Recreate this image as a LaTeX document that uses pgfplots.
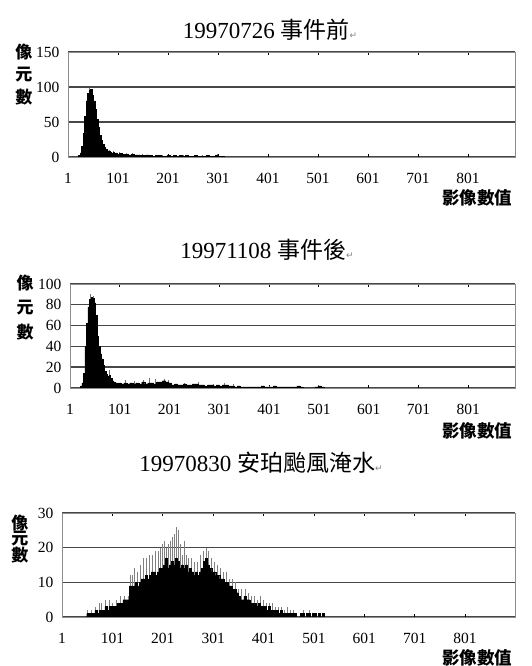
\documentclass[border=0pt]{standalone}
\usepackage{fontspec}
\setmainfont{Liberation Serif}
\newfontfamily\cjk{Noto Sans CJK TC}
\newfontfamily\sym{DejaVu Sans}
\usepackage{pgfplots}
\pgfplotsset{compat=1.18}
\pgfplotsset{hist/.style={
  scale only axis, anchor=south west,
  axis line style={draw=black!45, line width=0.6pt},
  ymajorgrids, grid style={draw=black!72, line width=1.4pt},
  xtick={1,101,...,801}, tick align=inside, major tick length=3pt,
  ytick style={draw=none}, xtick style={draw=black, line width=0.8pt},
  tick label style={font=\fontsize{15.5}{15.5}\selectfont},
  /pgf/number format/assume math mode=true,
  xticklabel style={yshift=-13pt},
  yticklabel style={xshift=-5pt},
  ymin=0, xmin=1,
}}
\newcommand{\ttl}[1]{{\fontsize{23}{23}\selectfont #1}}
\newcommand{\ylab}{\fontsize{17}{17}\selectfont\cjk\bfseries}
\begin{document}
\begin{tikzpicture}
\useasboundingbox (0,0) rectangle (531pt,666pt);
% ---------- Panel 1 ----------
\begin{axis}[hist, at={(68pt,509pt)}, width=447pt, height=105pt,
  xmax=895, ymax=150, ytick={0,50,100,150}]
\addplot[ycomb, draw=black!55, line width=0.8pt] coordinates {
(44,99)(50,92)(84,10)(92,9)(104,7)(118,6)(130,5)(150,4)(190,3)(232,3)(270,3)(300,4)};
\addplot[const plot, fill=black, draw=black, line width=0.3pt] coordinates {
(19,0)(22,2)(25,6)(28,15)(31,34)(34,58)(37,80)(40,91)(43,95)(46,97)(49,88)(52,80)(55,68)(58,54)(61,42)(64,31)(67,24)(70,18)(73,14)(76,11)(79,9)(82,8)(85,7)(88,6)(91,7)(94,5)(97,6)(100,4)
(103,5)(109,4)(115,4)(121,3)(127,4)(133,3)(139,3)(145,2)(151,2)(157,3)(163,2)(169,1)(175,2)(181,2)(187,1)(193,1)(199,2)(205,1)(211,2)(217,1)(223,2)(229,1)(235,2)(241,1)(247,1)(253,2)(259,1)(265,1)(271,1)(277,2)(283,1)(289,1)(295,2)(301,1)(307,1)(313,0)} \closedcycle;
\end{axis}
\node at (270pt,636pt) {\ttl{19970726 {\cjk 事件前}{\sym\color{black!50}\fontsize{9}{9}\selectfont ↵}}};
\node[font=\ylab] at (24pt,614pt) {像};
\node[font=\ylab] at (24pt,591pt) {元};
\node[font=\ylab] at (24pt,569pt) {數};
\node[anchor=east, font=\fontsize{17.5}{17.5}\selectfont\cjk\bfseries] at (516pt,468pt) {影像數值};
% ---------- Panel 2 ----------
\begin{axis}[hist, at={(70pt,278pt)}, width=445pt, height=104pt,
  xmax=895, ymax=100, ytick={0,20,...,100}]
\addplot[ycomb, draw=black!55, line width=0.8pt] coordinates {
(42,90)(48,88)(80,17)(112,8)(130,7)(148,8)(160,10)(172,9)(190,9)(198,8)(230,5)(258,6)(290,4)(312,5)(330,4)(401,2)(500,3)};
\addplot[const plot, fill=black, draw=black, line width=0.3pt] coordinates {
(19,0)(22,2)(25,5)(28,14)(31,40)(34,62)(37,78)(40,85)(43,87)(46,86)(49,82)(52,70)(55,50)(58,40)(61,33)(64,28)(67,22)(70,16)(73,13)(76,11)(79,12)(82,9)(85,7)(88,6)(91,5)(94,5)(97,4)(100,5)
(103,4)(109,5)(115,4)(121,5)(127,4)(133,5)(139,4)(145,6)(151,4)(157,5)(163,5)(169,4)(175,6)(181,6)(187,7)(193,6)(199,5)(205,3)(211,4)(217,3)(223,3)(229,4)(235,3)(241,3)(247,4)(253,4)(259,3)(265,3)(271,2)(277,3)(283,3)(289,2)(295,3)(301,2)(307,3)(313,3)(319,2)(325,2)(331,1)(337,2)(343,1)(349,1)(355,1)(361,1)(367,1)(373,1)(379,1)(385,2)(391,1)(397,1)(403,1)(409,2)(415,1)(421,1)(427,1)(433,1)(439,1)(445,1)(451,1)(457,2)(463,1)(469,0)(493,1)(499,2)(505,1)(511,0)} \closedcycle;
\end{axis}
\node at (267pt,416pt) {\ttl{19971108 {\cjk 事件後}{\sym\color{black!50}\fontsize{9}{9}\selectfont ↵}}};
\node[font=\ylab] at (25pt,383pt) {像};
\node[font=\ylab] at (25pt,358pt) {元};
\node[font=\ylab] at (25pt,334pt) {數};
\node[anchor=east, font=\fontsize{17.5}{17.5}\selectfont\cjk\bfseries] at (516pt,235pt) {影像數值};
% ---------- Panel 3 ----------
\begin{axis}[hist, at={(62pt,49pt)}, width=453pt, height=104pt,
  xmax=900, ymax=30, ytick={0,10,20,30}]
\addplot[ycomb, draw=black!50, line width=0.8pt] coordinates {
(52,2)(60,2)(68,3)(76,4)(80,4)(88,5)(96,5)(102,4)(108,5)(116,6)(124,6)(132,6)(136,12)(140,12)(144,14)(150,13)(156,15)(162,17)(168,17)(174,18)(180,18)(186,19)(192,19)(196,20)(200,21)(204,22)(208,20)(212,21)(216,22)(220,23)(224,24)(228,26)(232,25)(236,21)(240,18)(244,22)(248,18)(252,17)(258,17)(264,16)(270,16)(276,18)(282,19)(288,20)(292,19)(298,17)(304,16)(310,15)(316,14)(322,13)(328,13)(334,11)(340,11)(346,10)(352,8)(358,8)(364,8)(370,7)(376,6)(382,6)(388,5)(394,6)(400,5)(406,4)(412,4)(418,4)(424,3)(430,3)(436,3)(442,2)(448,3)(454,2)(460,2)(480,2)(492,2)(504,1)};
\addplot[const plot, fill=black, draw=black, line width=0.3pt] coordinates {
(46,0)(50,1)(54,1)(58,1)(62,1)(66,2)(70,1)(74,2)(78,2)(82,2)(86,3)(90,2)(94,3)(98,3)(102,3)(106,3)(110,4)(114,4)(118,4)(122,5)(126,5)(130,5)(134,9)(138,9)(142,9)(146,10)(150,9)(154,10)(158,11)(162,11)(166,12)(170,11)(174,12)(178,13)(182,13)(186,12)(190,13)(194,14)(198,14)(202,15)(206,17)(210,14)(214,15)(218,16)(222,15)(226,17)(230,16)(234,14)(238,15)(242,14)(246,15)(250,13)(254,14)(258,13)(262,12)(266,13)(270,12)(274,13)(278,14)(282,16)(286,17)(290,15)(294,14)(298,13)(302,13)(306,12)(310,12)(314,11)(318,11)(322,10)(326,10)(330,9)(334,9)(338,8)(342,8)(346,7)(350,6)(354,5)(358,5)(362,6)(366,5)(370,5)(374,4)(378,4)(382,4)(386,3)(390,4)(394,3)(398,3)(402,3)(406,2)(410,3)(414,2)(418,2)(422,2)(426,2)(430,1)(434,2)(438,1)(442,1)(446,1)(450,1)(454,1)(458,1)(462,1)(466,0)(470,0)(474,1)(478,1)(482,0)(486,1)(490,1)(494,0)(498,1)(502,1)(506,0)(510,1)(514,0)(518,1)(522,0)} \closedcycle;
\end{axis}
\node at (261pt,203pt) {\ttl{19970830 {\cjk 安珀颱風淹水}{\sym\color{black!50}\fontsize{9}{9}\selectfont ↵}}};
\node[font=\ylab] at (20pt,143pt) {像};
\node[font=\ylab] at (20pt,127pt) {元};
\node[font=\ylab] at (20pt,111pt) {數};
\node[anchor=east, font=\fontsize{17.5}{17.5}\selectfont\cjk\bfseries] at (516pt,8pt) {影像數值};
\end{tikzpicture}
\end{document}
